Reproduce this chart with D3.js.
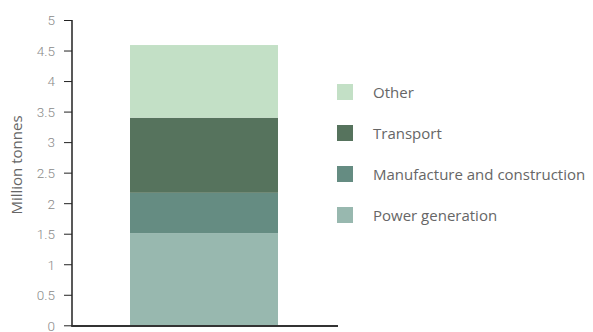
<!DOCTYPE html>
<html><head><meta charset="utf-8">
<script src="https://cdn.jsdelivr.net/npm/d3@7"></script>
<style>body{margin:0;background:#fff}svg{display:block}</style>
</head><body><svg id="c" width="593" height="332"></svg>
<script>
const categories = ["Power generation","Manufacture and construction","Transport","Other"];
const values = [1.51, 0.66, 1.23, 1.19];
const colors = ["#98b8af","#658c82","#56735d","#c3e0c6"];
const yTicks = [0,0.5,1,1.5,2,2.5,3,3.5,4,4.5,5];
const barLabel = ["Total"];

const svg = d3.select("#c");
const y = d3.scaleLinear().domain([0,5]).range([325.3,20]);
const x = d3.scaleBand().domain(barLabel).range([72,336]).paddingInner(0).paddingOuter(0.392);

let cum = 0;
const stacks = values.map((v,i)=>{const s={k:categories[i],y0:cum,y1:cum+v,c:colors[i]}; cum+=v; return s;});
svg.selectAll("rect.bar").data(stacks).enter().append("rect")
  .attr("x", x("Total")).attr("width", x.bandwidth())
  .attr("y", d=>y(d.y1)).attr("height", d=>y(d.y0)-y(d.y1))
  .attr("fill", d=>d.c);

const ax = svg.append("g").attr("transform","translate(72,0)")
  .call(d3.axisLeft(y).tickValues(yTicks).tickSize(8).tickFormat(d=>String(d)));
ax.select(".domain").attr("stroke","#222").attr("stroke-width",1.5).attr("d","M0,20V327");
ax.selectAll(".tick line").attr("stroke","#222");
ax.selectAll(".tick text").attr("fill","#8a8a8a").attr("font-family","Roboto, sans-serif").attr("font-weight",300)
  .attr("font-size",13.5).attr("x",-17).attr("dy","0.36em");

svg.append("line").attr("x1",72).attr("x2",338).attr("y1",326).attr("y2",326).attr("stroke","#333").attr("stroke-width",2);

svg.append("text").attr("transform","translate(22,165) rotate(-90)").attr("text-anchor","middle")
  .attr("fill","#666").attr("font-family","'Open Sans', sans-serif").attr("font-size",15).text("Million tonnes");

const leg = categories.slice().reverse();
const legC = colors.slice().reverse();
const lg = svg.selectAll("g.leg").data(leg).enter().append("g").attr("transform",(d,i)=>`translate(337,${84+i*41})`);
lg.append("rect").attr("width",16).attr("height",16).attr("fill",(d,i)=>legC[i]);
lg.append("text").attr("x",36).attr("y",14.3).attr("fill","#666").attr("font-family","'Open Sans', sans-serif").attr("font-size",15).text(d=>d);
</script></body></html>
